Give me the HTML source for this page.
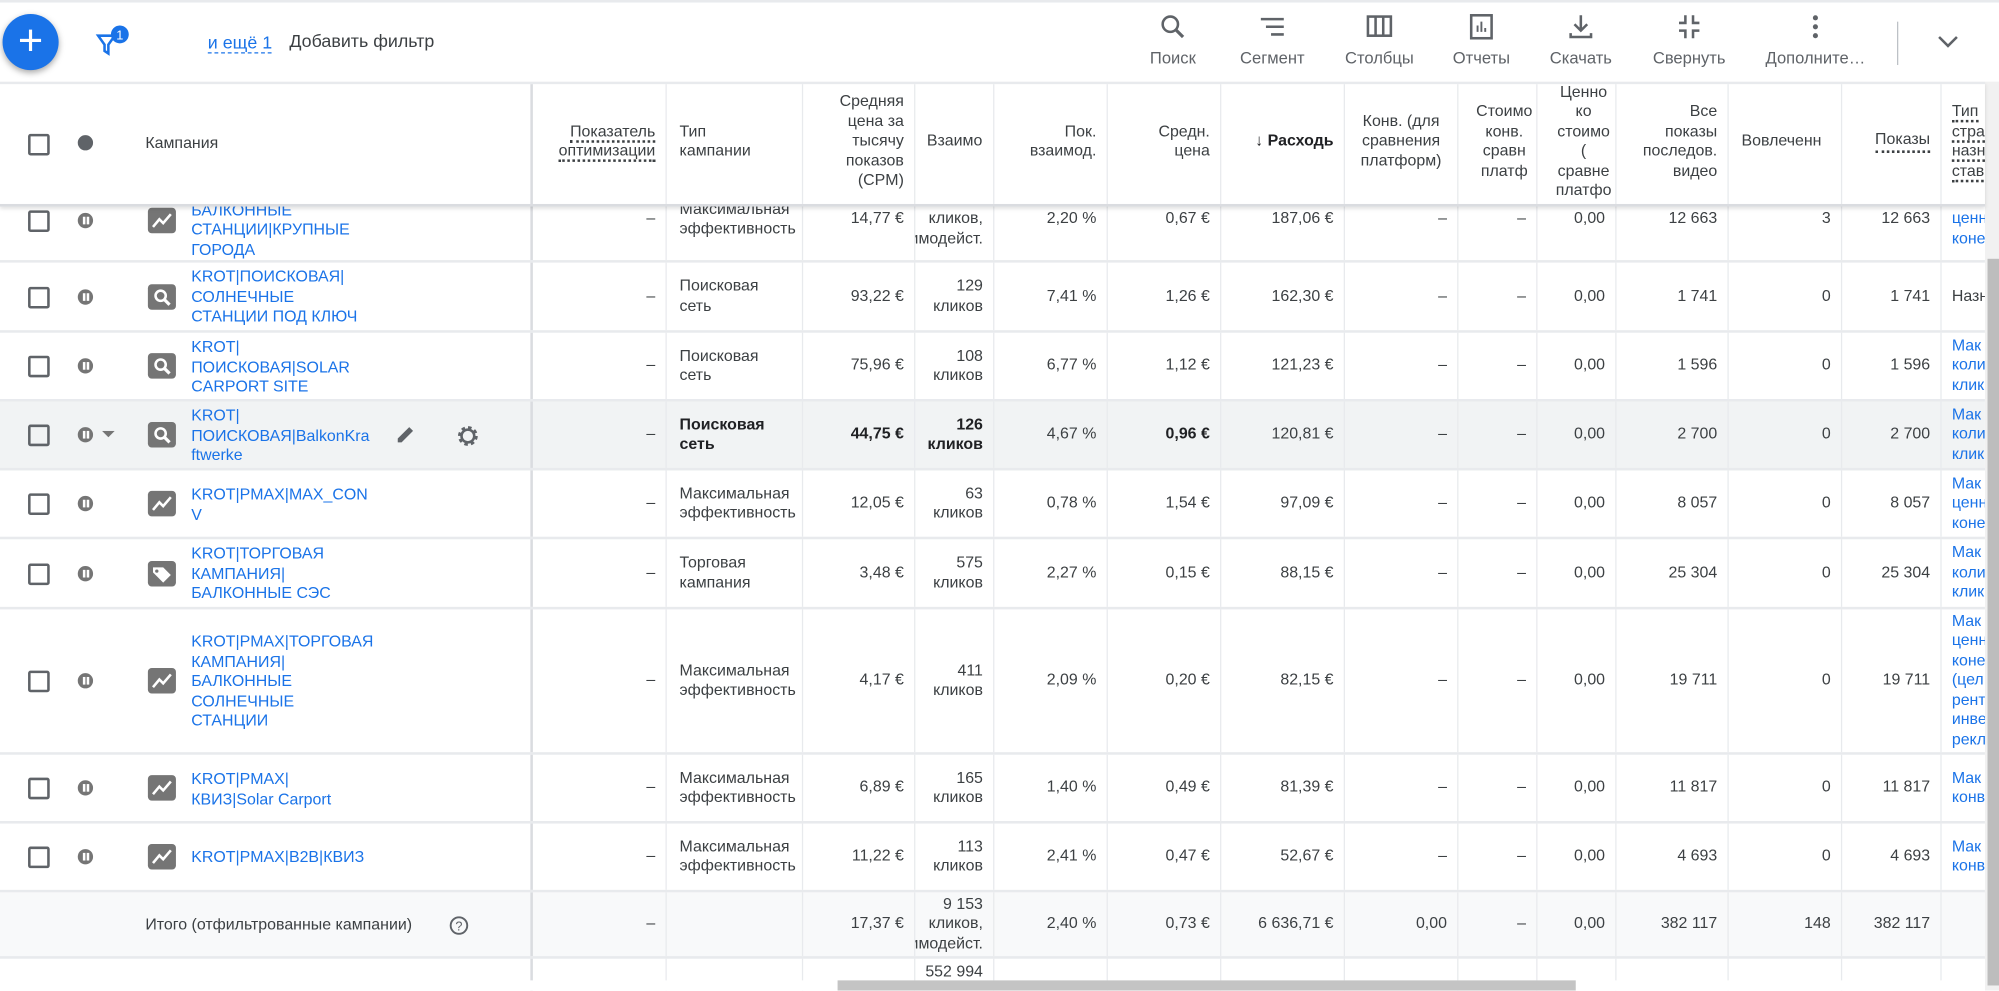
<!DOCTYPE html>
<html><head><meta charset="utf-8">
<style>
html,body{margin:0;padding:0;width:1999px;height:991px;overflow:hidden;background:#fff}
#s{position:absolute;left:0;top:0;width:1568px;height:777px;transform:scale(1.27487);transform-origin:0 0;overflow:hidden;font-family:"Liberation Sans","Noto Sans CJK SC",sans-serif;font-size:12.5px;color:#3c4043;line-height:15.5px}
.a{position:absolute}
.top{left:0;top:0;width:1568px;height:64px;background:#fff;border-top:2px solid #e8eaed;box-sizing:border-box;z-index:5}
.fab{left:2px;top:9px;width:44px;height:44px;border-radius:50%;background:#1a73e8;box-shadow:0 2px 5px rgba(0,0,0,.35);color:#fff;font-size:34px;line-height:42px;text-align:center}
.tb{top:8px;text-align:center;font-size:13px;color:#5f6368;width:90px}
.tb svg{display:block;margin:0 auto 6px}
.hdr{left:0;top:64px;width:1557px;height:98px;background:#fff;z-index:4;border-top:2px solid #e8eaed;border-bottom:2px solid #dadce0;box-shadow:0 2px 3px rgba(0,0,0,.12);box-sizing:border-box;display:flex}
.body{left:0;top:140px;width:1557px;height:637px;overflow:hidden}
.row{display:flex;border-bottom:2px solid #e8eaed;box-sizing:border-box}
.c{overflow:hidden;display:flex;align-items:center;justify-content:flex-end;padding-right:8px;box-sizing:border-box;border-right:1px solid #e8eaed;text-align:right;flex:none}
.c>span{white-space:nowrap}
.l{justify-content:flex-start;padding-left:10px;text-align:left}
.camp{position:relative;border-right:2px solid #dadce0;padding:0}
.cb{position:absolute;left:22px;width:13px;height:13px;border:2px solid #5f6368;border-radius:2px}
.pz{position:absolute;left:61px;width:12px;height:12px;border-radius:50%;background:#757575}
.pz:before,.pz:after{content:"";position:absolute;top:3px;width:2px;height:6px;background:#fff;left:3.5px}
.pz:after{left:6.5px}
.ic{position:absolute;left:116px;width:22px;height:20px;border-radius:3px;background:#757575}
.nm{position:absolute;left:150px;color:#1a73e8;text-align:left;white-space:nowrap}
.blue{color:#1a73e8}
.dot{border-bottom:2px dotted #3c4043}
.h .c{align-items:center;padding-bottom:4px}
b{font-weight:bold;color:#202124}
</style></head><body><div id="s">
<svg width="0" height="0" style="position:absolute"><defs>
<symbol id="pm" viewBox="0 0 22 20"><path d="M4 15l5-6 3 3 6-7" fill="none" stroke="#fff" stroke-width="2"/></symbol>
<symbol id="sr" viewBox="0 0 22 20"><circle cx="10" cy="9" r="4" fill="none" stroke="#fff" stroke-width="2"/><path d="M13 12l4 4" stroke="#fff" stroke-width="2.5"/></symbol>
<symbol id="tg" viewBox="0 0 22 20"><path d="M4 5h8l6 6-6 6-8-8z" fill="#fff"/><circle cx="7" cy="8" r="1.3" fill="#757575"/></symbol>
</defs></svg>

<div class="a top">
 <div class="a fab">+</div>
 <svg class="a" style="left:74px;top:18px" width="30" height="26"><path d="M3 8h13l-5 7v7l-3-2v-5z" fill="none" stroke="#1a73e8" stroke-width="2"/><circle cx="20" cy="7" r="7" fill="#1a73e8"/><text x="20" y="11" font-size="10" fill="#fff" text-anchor="middle" font-family="Liberation Sans">1</text></svg>
 <div class="a" style="left:163px;top:23px;font-size:14px;color:#1a73e8;border-bottom:1.5px dashed #1a73e8;line-height:16px">и ещё 1</div>
 <div class="a" style="left:227px;top:23px;font-size:14px;color:#3c4043">Добавить фильтр</div>
 <div class="a tb" style="left:875px"><svg width="22" height="22"><circle cx="9" cy="9" r="6" fill="none" stroke="#5f6368" stroke-width="2"/><path d="M13 13l6 6" stroke="#5f6368" stroke-width="2.5"/></svg>Поиск</div>
 <div class="a tb" style="left:953px"><svg width="22" height="22"><path d="M2 5h18M6 11h14M10 17h10" stroke="#5f6368" stroke-width="2"/></svg>Сегмент</div>
 <div class="a tb" style="left:1037px"><svg width="22" height="22"><rect x="2" y="3" width="18" height="15" fill="none" stroke="#5f6368" stroke-width="2"/><path d="M8 3v15M14 3v15" stroke="#5f6368" stroke-width="2"/></svg>Столбцы</div>
 <div class="a tb" style="left:1117px"><svg width="22" height="22"><rect x="3" y="2" width="16" height="18" fill="none" stroke="#5f6368" stroke-width="2"/><path d="M8 15v-5M11 15v-8M14 15v-3" stroke="#5f6368" stroke-width="1.5"/></svg>Отчеты</div>
 <div class="a tb" style="left:1195px"><svg width="22" height="22"><path d="M11 2v11M6 9l5 5 5-5M3 16v3h16v-3" fill="none" stroke="#5f6368" stroke-width="2"/></svg>Скачать</div>
 <div class="a tb" style="left:1280px"><svg width="22" height="22"><path d="M8 2v6H3M14 2v6h5M8 20v-6H3M14 20v-6h5" fill="none" stroke="#5f6368" stroke-width="2"/></svg>Свернуть</div>
 <div class="a tb" style="left:1379px"><svg width="22" height="22"><circle cx="11" cy="4" r="2" fill="#5f6368"/><circle cx="11" cy="11" r="2" fill="#5f6368"/><circle cx="11" cy="18" r="2" fill="#5f6368"/></svg>Дополните…</div>
 <div class="a" style="left:1488px;top:15px;width:1px;height:34px;background:#bdc1c6"></div>
 <svg class="a" style="left:1519px;top:24px" width="18" height="14"><path d="M2 3l7 7 7-7" fill="none" stroke="#5f6368" stroke-width="2"/></svg>
</div>

<div class="a hdr h">
 <div class="c camp" style="width:418px"><div class="cb" style="top:39px"></div><div class="a" style="left:61px;top:40px;width:12px;height:12px;border-radius:50%;background:#5f6368"></div><span class="a" style="left:114px;top:39px">Кампания</span></div>
 <div class="c" style="width:105px"><span><span class="dot">Показатель</span><br><span class="dot">оптимизации</span></span></div>
 <div class="c l" style="width:107px"><span>Тип<br>кампании</span></div>
 <div class="c" style="width:88px"><span>Средняя<br>цена за<br>тысячу<br>показов<br>(CPM)</span></div>
 <div class="c l" style="width:62px;padding-left:9px"><span>Взаимо</span></div>
 <div class="c" style="width:89px"><span>Пок.<br>взаимод.</span></div>
 <div class="c" style="width:89px"><span>Средн.<br>цена</span></div>
 <div class="c" style="width:97px"><span><b>↓ Расходь</b></span></div>
 <div class="c" style="width:89px;justify-content:center;text-align:center;padding:0 0 4px 0"><span>Конв. (для<br>сравнения<br>платформ)</span></div>
 <div class="c" style="width:62px;padding-right:3px"><span style="text-align:center">Стоимо<br>конв.<br>сравн<br>платф</span></div>
 <div class="c" style="width:62px;padding-right:3px"><span style="text-align:center">Ценно<br>ко<br>стоимо<br>(<br>сравне<br>платфо</span></div>
 <div class="c" style="width:88px"><span>Все<br>показы<br>последов.<br>видео</span></div>
 <div class="c l" style="width:89px"><span>Вовлеченн</span></div>
 <div class="c" style="width:78px"><span class="dot">Показы</span></div>
 <div class="c l" style="width:34px;padding-left:8px;border:0"><span><span class="dot">Тип</span><br><span class="dot">стра</span><br><span class="dot">назн</span><br><span class="dot">став</span></span></div>
</div>

<div class="a body">
<div class="row" style="height:66px">
 <div class="c camp" style="width:418px"><div class="cb" style="top:25px"></div><div class="pz" style="top:27px"></div><svg class="ic" style="top:23px"><use href="#pm"/></svg><span class="nm" style="top:2px">KROT|PMAX|<br>БАЛКОННЫЕ<br>СТАНЦИИ|КРУПНЫЕ<br>ГОРОДА</span></div>
 <div class="c" style="width:105px"><span>–</span></div>
 <div class="c l" style="width:107px"><span>Максимальная<br>эффективность</span></div>
 <div class="c" style="width:88px"><span>14,77 €</span></div>
 <div class="c" style="width:62px"><span>7 480<br>кликов,<br>взаимодейст.</span></div>
 <div class="c" style="width:89px"><span>2,20 %</span></div>
 <div class="c" style="width:89px"><span>0,67 €</span></div>
 <div class="c" style="width:97px"><span>187,06 €</span></div>
 <div class="c" style="width:89px"><span>–</span></div>
 <div class="c" style="width:62px"><span>–</span></div>
 <div class="c" style="width:62px"><span>0,00</span></div>
 <div class="c" style="width:88px"><span>12 663</span></div>
 <div class="c" style="width:89px"><span>3</span></div>
 <div class="c" style="width:78px"><span>12 663</span></div>
 <div class="c l blue" style="width:34px;padding-left:8px;border:0"><span><br>ценн<br>коне</span></div>
</div>
<div class="row" style="height:55px">
 <div class="c camp" style="width:418px"><div class="cb" style="top:19px"></div><div class="pz" style="top:21px"></div><svg class="ic" style="top:17px"><use href="#sr"/></svg><span class="nm" style="top:4px">KROT|ПОИСКОВАЯ|<br>СОЛНЕЧНЫЕ<br>СТАНЦИИ ПОД КЛЮЧ</span></div>
 <div class="c" style="width:105px"><span>–</span></div>
 <div class="c l" style="width:107px"><span>Поисковая<br>сеть</span></div>
 <div class="c" style="width:88px"><span>93,22 €</span></div>
 <div class="c" style="width:62px"><span>129<br>кликов</span></div>
 <div class="c" style="width:89px"><span>7,41 %</span></div>
 <div class="c" style="width:89px"><span>1,26 €</span></div>
 <div class="c" style="width:97px"><span>162,30 €</span></div>
 <div class="c" style="width:89px"><span>–</span></div>
 <div class="c" style="width:62px"><span>–</span></div>
 <div class="c" style="width:62px"><span>0,00</span></div>
 <div class="c" style="width:88px"><span>1 741</span></div>
 <div class="c" style="width:89px"><span>0</span></div>
 <div class="c" style="width:78px"><span>1 741</span></div>
 <div class="c l" style="width:34px;padding-left:8px;border:0"><span>Назн</span></div>
</div>
<div class="row" style="height:54px">
 <div class="c camp" style="width:418px"><div class="cb" style="top:18px"></div><div class="pz" style="top:20px"></div><svg class="ic" style="top:16px"><use href="#sr"/></svg><span class="nm" style="top:4px">KROT|<br>ПОИСКОВАЯ|SOLAR<br>CARPORT SITE</span></div>
 <div class="c" style="width:105px"><span>–</span></div>
 <div class="c l" style="width:107px"><span>Поисковая<br>сеть</span></div>
 <div class="c" style="width:88px"><span>75,96 €</span></div>
 <div class="c" style="width:62px"><span>108<br>кликов</span></div>
 <div class="c" style="width:89px"><span>6,77 %</span></div>
 <div class="c" style="width:89px"><span>1,12 €</span></div>
 <div class="c" style="width:97px"><span>121,23 €</span></div>
 <div class="c" style="width:89px"><span>–</span></div>
 <div class="c" style="width:62px"><span>–</span></div>
 <div class="c" style="width:62px"><span>0,00</span></div>
 <div class="c" style="width:88px"><span>1 596</span></div>
 <div class="c" style="width:89px"><span>0</span></div>
 <div class="c" style="width:78px"><span>1 596</span></div>
 <div class="c l blue" style="width:34px;padding-left:8px;border:0"><span>Мак<br>коли<br>клик</span></div>
</div>
<div class="row" style="height:54px;background:#f1f3f4">
 <div class="c camp" style="width:418px"><div class="cb" style="top:18px"></div><div class="pz" style="top:20px"></div><svg class="a" style="left:79px;top:23px" width="12" height="6"><path d="M1 0h10L6 5z" fill="#757575"/></svg><svg class="ic" style="top:16px"><use href="#sr"/></svg><span class="nm" style="top:4px">KROT|<br>ПОИСКОВАЯ|BalkonKra<br>ftwerke</span>
 <svg class="a" style="left:309px;top:17px" width="18" height="18"><path d="M3 15v-3l9-9 3 3-9 9z" fill="#5f6368"/></svg>
 <svg class="a" style="left:357px;top:17px" width="20" height="20"><circle cx="10" cy="10" r="6" fill="none" stroke="#5f6368" stroke-width="3.5" stroke-dasharray="2.5 2.2"/><circle cx="10" cy="10" r="5" fill="none" stroke="#5f6368" stroke-width="2"/></svg></div>
 <div class="c" style="width:105px"><span>–</span></div>
 <div class="c l" style="width:107px"><span><b>Поисковая<br>сеть</b></span></div>
 <div class="c" style="width:88px"><span><b>44,75 €</b></span></div>
 <div class="c" style="width:62px"><span><b>126<br>кликов</b></span></div>
 <div class="c" style="width:89px"><span>4,67 %</span></div>
 <div class="c" style="width:89px"><span><b>0,96 €</b></span></div>
 <div class="c" style="width:97px"><span>120,81 €</span></div>
 <div class="c" style="width:89px"><span>–</span></div>
 <div class="c" style="width:62px"><span>–</span></div>
 <div class="c" style="width:62px"><span>0,00</span></div>
 <div class="c" style="width:88px"><span>2 700</span></div>
 <div class="c" style="width:89px"><span>0</span></div>
 <div class="c" style="width:78px"><span>2 700</span></div>
 <div class="c l blue" style="width:34px;padding-left:8px;border:0"><span>Мак<br>коли<br>клик</span></div>
</div>
<div class="row" style="height:54px">
 <div class="c camp" style="width:418px"><div class="cb" style="top:18px"></div><div class="pz" style="top:20px"></div><svg class="ic" style="top:16px"><use href="#pm"/></svg><span class="nm" style="top:12px">KROT|PMAX|MAX_CON<br>V</span></div>
 <div class="c" style="width:105px"><span>–</span></div>
 <div class="c l" style="width:107px"><span>Максимальная<br>эффективность</span></div>
 <div class="c" style="width:88px"><span>12,05 €</span></div>
 <div class="c" style="width:62px"><span>63<br>кликов</span></div>
 <div class="c" style="width:89px"><span>0,78 %</span></div>
 <div class="c" style="width:89px"><span>1,54 €</span></div>
 <div class="c" style="width:97px"><span>97,09 €</span></div>
 <div class="c" style="width:89px"><span>–</span></div>
 <div class="c" style="width:62px"><span>–</span></div>
 <div class="c" style="width:62px"><span>0,00</span></div>
 <div class="c" style="width:88px"><span>8 057</span></div>
 <div class="c" style="width:89px"><span>0</span></div>
 <div class="c" style="width:78px"><span>8 057</span></div>
 <div class="c l blue" style="width:34px;padding-left:8px;border:0"><span>Мак<br>ценн<br>коне</span></div>
</div>
<div class="row" style="height:55px">
 <div class="c camp" style="width:418px"><div class="cb" style="top:19px"></div><div class="pz" style="top:21px"></div><svg class="ic" style="top:17px"><use href="#tg"/></svg><span class="nm" style="top:4px">KROT|ТОРГОВАЯ<br>КАМПАНИЯ|<br>БАЛКОННЫЕ СЭС</span></div>
 <div class="c" style="width:105px"><span>–</span></div>
 <div class="c l" style="width:107px"><span>Торговая<br>кампания</span></div>
 <div class="c" style="width:88px"><span>3,48 €</span></div>
 <div class="c" style="width:62px"><span>575<br>кликов</span></div>
 <div class="c" style="width:89px"><span>2,27 %</span></div>
 <div class="c" style="width:89px"><span>0,15 €</span></div>
 <div class="c" style="width:97px"><span>88,15 €</span></div>
 <div class="c" style="width:89px"><span>–</span></div>
 <div class="c" style="width:62px"><span>–</span></div>
 <div class="c" style="width:62px"><span>0,00</span></div>
 <div class="c" style="width:88px"><span>25 304</span></div>
 <div class="c" style="width:89px"><span>0</span></div>
 <div class="c" style="width:78px"><span>25 304</span></div>
 <div class="c l blue" style="width:34px;padding-left:8px;border:0"><span>Мак<br>коли<br>клик</span></div>
</div>
<div class="row" style="height:114px">
 <div class="c camp" style="width:418px"><div class="cb" style="top:48px"></div><div class="pz" style="top:50px"></div><svg class="ic" style="top:46px"><use href="#pm"/></svg><span class="nm" style="top:18px">KROT|PMAX|ТОРГОВАЯ<br>КАМПАНИЯ|<br>БАЛКОННЫЕ<br>СОЛНЕЧНЫЕ<br>СТАНЦИИ</span></div>
 <div class="c" style="width:105px"><span>–</span></div>
 <div class="c l" style="width:107px"><span>Максимальная<br>эффективность</span></div>
 <div class="c" style="width:88px"><span>4,17 €</span></div>
 <div class="c" style="width:62px"><span>411<br>кликов</span></div>
 <div class="c" style="width:89px"><span>2,09 %</span></div>
 <div class="c" style="width:89px"><span>0,20 €</span></div>
 <div class="c" style="width:97px"><span>82,15 €</span></div>
 <div class="c" style="width:89px"><span>–</span></div>
 <div class="c" style="width:62px"><span>–</span></div>
 <div class="c" style="width:62px"><span>0,00</span></div>
 <div class="c" style="width:88px"><span>19 711</span></div>
 <div class="c" style="width:89px"><span>0</span></div>
 <div class="c" style="width:78px"><span>19 711</span></div>
 <div class="c l blue" style="width:34px;padding-left:8px;border:0"><span>Мак<br>ценн<br>коне<br>(цел<br>рент<br>инве<br>рекл</span></div>
</div>
<div class="row" style="height:54px">
 <div class="c camp" style="width:418px"><div class="cb" style="top:18px"></div><div class="pz" style="top:20px"></div><svg class="ic" style="top:16px"><use href="#pm"/></svg><span class="nm" style="top:12px">KROT|PMAX|<br>КВИЗ|Solar Carport</span></div>
 <div class="c" style="width:105px"><span>–</span></div>
 <div class="c l" style="width:107px"><span>Максимальная<br>эффективность</span></div>
 <div class="c" style="width:88px"><span>6,89 €</span></div>
 <div class="c" style="width:62px"><span>165<br>кликов</span></div>
 <div class="c" style="width:89px"><span>1,40 %</span></div>
 <div class="c" style="width:89px"><span>0,49 €</span></div>
 <div class="c" style="width:97px"><span>81,39 €</span></div>
 <div class="c" style="width:89px"><span>–</span></div>
 <div class="c" style="width:62px"><span>–</span></div>
 <div class="c" style="width:62px"><span>0,00</span></div>
 <div class="c" style="width:88px"><span>11 817</span></div>
 <div class="c" style="width:89px"><span>0</span></div>
 <div class="c" style="width:78px"><span>11 817</span></div>
 <div class="c l blue" style="width:34px;padding-left:8px;border:0"><span>Мак<br>конв</span></div>
</div>
<div class="row" style="height:54px">
 <div class="c camp" style="width:418px"><div class="cb" style="top:18px"></div><div class="pz" style="top:20px"></div><svg class="ic" style="top:16px"><use href="#pm"/></svg><span class="nm" style="top:19px">KROT|PMAX|B2B|КВИЗ</span></div>
 <div class="c" style="width:105px"><span>–</span></div>
 <div class="c l" style="width:107px"><span>Максимальная<br>эффективность</span></div>
 <div class="c" style="width:88px"><span>11,22 €</span></div>
 <div class="c" style="width:62px"><span>113<br>кликов</span></div>
 <div class="c" style="width:89px"><span>2,41 %</span></div>
 <div class="c" style="width:89px"><span>0,47 €</span></div>
 <div class="c" style="width:97px"><span>52,67 €</span></div>
 <div class="c" style="width:89px"><span>–</span></div>
 <div class="c" style="width:62px"><span>–</span></div>
 <div class="c" style="width:62px"><span>0,00</span></div>
 <div class="c" style="width:88px"><span>4 693</span></div>
 <div class="c" style="width:89px"><span>0</span></div>
 <div class="c" style="width:78px"><span>4 693</span></div>
 <div class="c l blue" style="width:34px;padding-left:8px;border:0"><span>Мак<br>конв</span></div>
</div>
<div class="row" style="height:52px;background:#f8f9fa">
 <div class="c camp" style="width:418px"><span class="a" style="left:114px;top:18px">Итого (отфильтрованные кампании)</span><svg class="a" style="left:352px;top:18px" width="16" height="16"><circle cx="8" cy="8" r="6.5" fill="none" stroke="#5f6368" stroke-width="1.5"/><text x="8" y="12" font-size="10" text-anchor="middle" fill="#5f6368" font-family="Liberation Sans">?</text></svg></div>
 <div class="c" style="width:105px"><span>–</span></div>
 <div class="c l" style="width:107px"><span></span></div>
 <div class="c" style="width:88px"><span>17,37 €</span></div>
 <div class="c" style="width:62px"><span>9 153<br>кликов,<br>взаимодейст.</span></div>
 <div class="c" style="width:89px"><span>2,40 %</span></div>
 <div class="c" style="width:89px"><span>0,73 €</span></div>
 <div class="c" style="width:97px"><span>6 636,71 €</span></div>
 <div class="c" style="width:89px"><span>0,00</span></div>
 <div class="c" style="width:62px"><span>–</span></div>
 <div class="c" style="width:62px"><span>0,00</span></div>
 <div class="c" style="width:88px"><span>382 117</span></div>
 <div class="c" style="width:89px"><span>148</span></div>
 <div class="c" style="width:78px"><span>382 117</span></div>
 <div class="c" style="width:34px;border:0"><span></span></div>
</div>
<div class="row" style="height:40px;border:0">
 <div class="c camp" style="width:418px"></div>
 <div class="c" style="width:105px"></div>
 <div class="c" style="width:107px"></div>
 <div class="c" style="width:88px"></div>
 <div class="c" style="width:62px;align-items:flex-start;padding-top:3px"><span>552 994</span></div>
 <div class="c" style="width:89px"></div>
 <div class="c" style="width:89px"></div>
 <div class="c" style="width:97px"></div>
 <div class="c" style="width:89px"></div>
 <div class="c" style="width:62px"></div>
 <div class="c" style="width:62px"></div>
 <div class="c" style="width:88px"></div>
 <div class="c" style="width:89px"></div>
 <div class="c" style="width:78px"></div>
</div>
</div>

<div class="a" style="left:0;top:769px;width:1557px;height:8px;background:#fff"></div>
<div class="a" style="left:657px;top:769px;width:579px;height:8px;background:#c4c4c4"></div>
<div class="a" style="left:1557px;top:64px;width:11px;height:713px;background:#f1f1f1"></div>
<div class="a" style="left:1559px;top:203px;width:9px;height:570px;background:#bdbdbd"></div>
</div></body></html>
